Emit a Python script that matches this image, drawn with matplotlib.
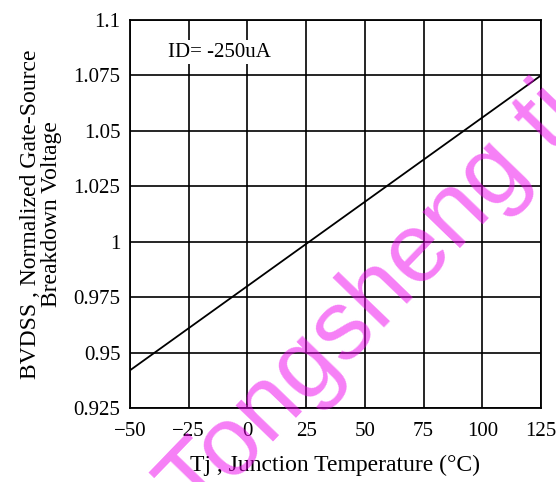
import matplotlib.pyplot as plt

# breakdown voltage vs junction temperature (straight line)
tj = [-50, 125]
bvdss = [0.942, 1.075]

xticks = [-50, -25, 0, 25, 50, 75, 100, 125]
yticks = [0.925, 0.95, 0.975, 1, 1.025, 1.05, 1.075, 1.1]
yticklabels = ['0.925', '0.95', '0.975', '1', '1.025', '1.05', '1.075', '1.1']

plt.rcParams['font.family'] = 'Liberation Serif'

fig = plt.figure(figsize=(5.56, 4.82), dpi=100)
ax = fig.add_axes([130 / 556, 1 - 408 / 482, 411 / 556, 388 / 482])

ax.plot(tj, bvdss, color='black', lw=1.3, zorder=3)

ax.set_xlim(-50, 125)
ax.set_ylim(0.925, 1.1)
ax.set_xticks(xticks)
ax.set_yticks(yticks)
ax.set_yticklabels(yticklabels)
ax.tick_params(length=0, labelsize=15, pad=7)
ax.tick_params(axis='x', pad=10)
ax.grid(True, color='black', lw=1.2)
ax.set_axisbelow(True)
for s in ax.spines.values():
    s.set_linewidth(1.3)

ax.set_xlabel('Tj , Junction Temperature (°C)', fontsize=17, labelpad=10)
ax.set_ylabel('BVDSS , Normalized Gate-Source\nBreakdown Voltage', fontsize=17,
              labelpad=8, linespacing=1.0)

ax.text(-34, 1.0855, 'ID= -250uA', fontsize=15, va='center', ha='left',
        bbox=dict(facecolor='white', edgecolor='none', pad=2), zorder=4)

# watermark
fig.text(373 / 556, 1 - 302 / 482, 'Tongsheng ti', fontsize=71,
         family=['Liberation Sans Narrow', 'Liberation Sans'],
         color='#ee00ee', alpha=0.5, rotation=46, rotation_mode='anchor',
         ha='center', va='center', zorder=10)

fig.savefig('out.png', dpi=100)
